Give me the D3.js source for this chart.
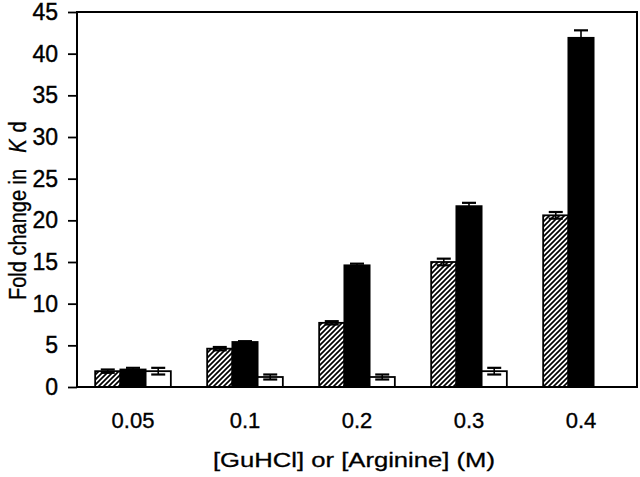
<!DOCTYPE html>
<html>
<head>
<meta charset="utf-8">
<script src="https://cdn.jsdelivr.net/npm/d3@7"></script>
<style>
  body { margin: 0; background: #fff; }
  text { font-family: "Liberation Sans", Arial, sans-serif; fill: #000; }
</style>
</head>
<body>
<div id="chart"></div>
<script>
const categories = ["0.05", "0.1", "0.2", "0.3", "0.4"];
const seriesNames = ["hatched", "black", "white"];
const hatchedVals = [1.9, 4.6, 7.7, 15.0, 20.6];
const blackVals = [2.1, 5.4, 14.6, 21.7, 41.9];
const whiteVals = [1.9, 1.2, 1.2, 1.9, null];
const hatchedErr = [0.2, 0.2, 0.2, 0.4, 0.4];
const blackErr = [0.2, 0.1, 0.2, 0.4, 0.9];
const whiteErr = [0.4, 0.3, 0.3, 0.4, null];
const yTicks = [0, 5, 10, 15, 20, 25, 30, 35, 40, 45];

let svg = d3.select("#chart").append("svg").attr("width", 640).attr("height", 477);
let mLeft = 77, mRight = 637, mTop = 12, mBottom = 387;

// hatch pattern
let defs = svg.append("defs");
let pat = defs.append("pattern").attr("id", "hatch")
  .attr("patternUnits", "userSpaceOnUse").attr("width", 5).attr("height", 5);
pat.append("rect").attr("width", 5).attr("height", 5).attr("fill", "#fff");
pat.append("path").attr("d", "M-1,6 L6,-1 M-1,1 L1,-1 M4,6 L6,4")
  .attr("stroke", "#000").attr("stroke-width", 1.7);

let x = d3.scaleBand().domain(categories).range([mLeft, mRight]);
let xs = d3.scaleBand().domain(seriesNames).range([0, x.bandwidth()]).paddingOuter(0.72);
let y = d3.scaleLinear().domain([0, 45]).range([mBottom, mTop]);

let rows = [];
categories.forEach((c, i) => {
  rows.push({cat: c, s: "hatched", v: hatchedVals[i], e: hatchedErr[i]});
  rows.push({cat: c, s: "black", v: blackVals[i], e: blackErr[i]});
  rows.push({cat: c, s: "white", v: whiteVals[i], e: whiteErr[i]});
});
rows = rows.filter(d => d.v != null);

let fills = {hatched: "url(#hatch)", black: "#000", white: "#fff"};

let bars = svg.append("g");
rows.forEach(d => {
  let bx = x(d.cat) + xs(d.s);
  let bw = xs.bandwidth();
  bars.append("rect")
    .attr("x", bx).attr("y", y(d.v))
    .attr("width", bw).attr("height", y(0) - y(d.v))
    .attr("fill", fills[d.s]).attr("stroke", "#000").attr("stroke-width", 1.8);
  // error bar
  let cx = bx + bw / 2;
  bars.append("line").attr("x1", cx).attr("x2", cx)
    .attr("y1", y(d.v + d.e)).attr("y2", y(d.v - d.e))
    .attr("stroke", "#000").attr("stroke-width", 1.6);
  [d.v + d.e, d.v - d.e].forEach(v => {
    bars.append("line").attr("x1", cx - 7).attr("x2", cx + 7)
      .attr("y1", y(v)).attr("y2", y(v))
      .attr("stroke", "#000").attr("stroke-width", 2.2);
  });
});

// frame
svg.append("path")
  .attr("d", `M${mLeft},${mBottom} L${mLeft},${mTop} L${mRight},${mTop} L${mRight},${mBottom} Z`)
  .attr("fill", "none").attr("stroke", "#000").attr("stroke-width", 2);

let yAxis = svg.append("g").attr("transform", `translate(${mLeft},0)`)
  .call(d3.axisLeft(y).tickValues(yTicks).tickSize(9).tickPadding(10));
yAxis.select(".domain").remove();
yAxis.selectAll("line").attr("stroke-width", 1.8);
yAxis.selectAll("text").attr("font-size", 23)
  .attr("font-family", "Liberation Sans, Arial, sans-serif")
  .attr("stroke", "#000").attr("stroke-width", 0.4);

let xAxis = svg.append("g").attr("transform", `translate(0,${mBottom})`)
  .call(d3.axisBottom(x).tickSize(0).tickPadding(25));
xAxis.select(".domain").remove();
xAxis.selectAll("text").attr("font-size", 22)
  .attr("font-family", "Liberation Sans, Arial, sans-serif")
  .attr("stroke", "#000").attr("stroke-width", 0.35);

svg.append("text").attr("x", 354).attr("y", 467)
  .attr("text-anchor", "middle").attr("font-size", 21)
  .attr("textLength", 282).attr("lengthAdjust", "spacingAndGlyphs")
  .attr("stroke", "#000").attr("stroke-width", 0.3)
  .text("[GuHCl] or [Arginine] (M)");

let yl = svg.append("text").attr("transform", "translate(26,300) scale(1.15,1) rotate(-90)")
  .attr("text-anchor", "start").attr("font-size", 20)
  .attr("stroke", "#000").attr("stroke-width", 0.3);
yl.append("tspan").text("Fold change in");
yl.append("tspan").attr("dx", 16).attr("font-style", "italic").text("K");
yl.append("tspan").attr("dx", 7).text("d");
</script>
</body>
</html>
